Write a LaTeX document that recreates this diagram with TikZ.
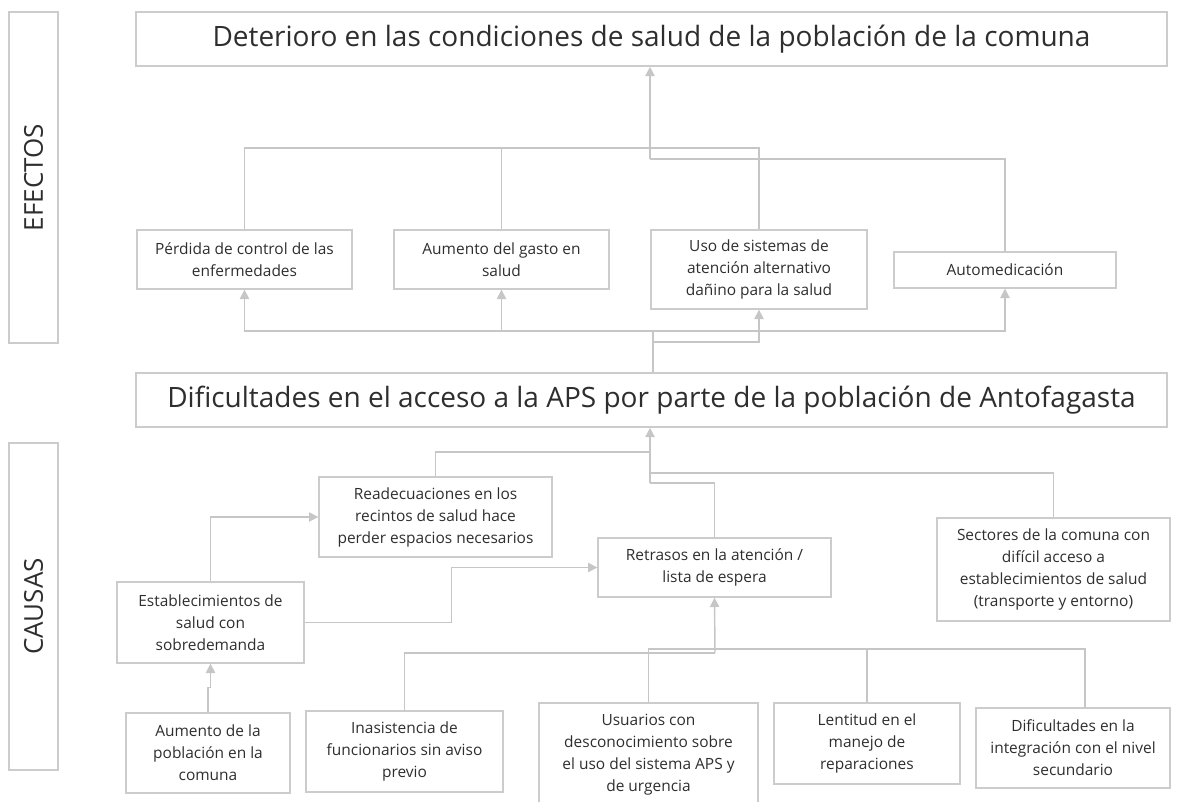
\documentclass[tikz,border=0pt]{standalone}
\usepackage{fontspec}
\setmainfont{Open Sans}
\usetikzlibrary{arrows.meta}
\definecolor{linegray}{HTML}{C6C6C6}
\definecolor{boxgray}{HTML}{CCCCCC}
\definecolor{textgray}{HTML}{2E2E2E}
\tikzset{
  conn/.style={draw=linegray, line width=1.1pt},
  connarrow/.style={conn, -{Triangle[length=7pt, width=7pt]}},
  causebox/.style={draw=boxgray, line width=1pt, align=center, text=textgray, font=\fontsize{11.6}{16.5}\selectfont, inner sep=1pt},
  bigbox/.style={draw=boxgray, line width=1.2pt, minimum width=773.25pt, minimum height=40.5pt, text=textgray, font=\fontsize{21}{24}\selectfont},
  sidebox/.style={draw=boxgray, line width=1pt, minimum height=36.75pt, rotate=90, text=textgray, font=\fontsize{19.5}{22}\selectfont}
}

\begin{document}
\begin{tikzpicture}[x=0.75pt, y=-0.75pt]
  \useasboundingbox (0,0) rectangle (1183,801);
  % side labels
  \node[sidebox, minimum width=248.25pt] (efectos) at (33.5,177.5) {EFECTOS};
  \node[sidebox, minimum width=245.25pt] (causas) at (33.5,606.5) {CAUSAS};
  % main boxes
  \node[bigbox] (top) at (651.5,39) {Deterioro en las condiciones de salud de la población de la comuna};
  \node[bigbox] (mid) at (651.5,400) {Dificultades en el acceso a la APS por parte de la población de Antofagasta};
  % effects
  \node[causebox, minimum width=161.25pt, minimum height=44.25pt] (perdida) at (244.5,259.5) {Pérdida de control de las\\ enfermedades};
  \node[causebox, minimum width=161.25pt, minimum height=44.25pt] (gasto) at (501.5,259.5) {Aumento del gasto en\\ salud};
  \node[causebox, minimum width=162pt, minimum height=59.25pt] (sistemas) at (759,269.5) {Uso de sistemas de\\ atención alternativo\\ dañino para la salud};
  \node[causebox, minimum width=166.5pt, minimum height=27pt] (automed) at (1005,270) {Automedicación};
  % causes
  \node[causebox, minimum width=174.75pt, minimum height=60pt] (readec) at (435.5,517) {Readecuaciones en los\\ recintos de salud hace\\ perder espacios necesarios};
  \node[causebox, minimum width=174.75pt, minimum height=44.25pt] (retrasos) at (714.5,567.5) {Retrasos en la atención /\\ lista de espera};
  \node[causebox, minimum width=174.75pt, minimum height=77.25pt] (sectores) at (1053.5,569.5) {Sectores de la comuna con\\ difícil acceso a\\ establecimientos de salud\\ (transporte y entorno)};
  \node[causebox, minimum width=140.25pt, minimum height=60.75pt] (sobredem) at (210.5,622.5) {Establecimientos de\\ salud con\\ sobredemanda};
  \node[causebox, minimum width=123pt, minimum height=60pt] (poblacion) at (208,753) {Aumento de la\\ población en la\\ comuna};
  \node[causebox, minimum width=147.75pt, minimum height=60.75pt] (inasist) at (404.5,751.5) {Inasistencia de\\ funcionarios sin aviso\\ previo};
  \node[causebox, minimum width=164.25pt, minimum height=78pt] (usuarios) at (648.5,755) {Usuarios con\\ desconocimiento sobre\\ el uso del sistema APS y\\ de urgencia};
  \node[causebox, minimum width=139.5pt, minimum height=60.75pt] (lentitud) at (867,743.5) {Lentitud en el\\ manejo de\\ reparaciones};
  \node[causebox, minimum width=145.5pt, minimum height=60pt] (integra) at (1073,748) {Dificultades en la\\ integración con el nivel\\ secundario};

  % effects to top
  \coordinate (jtop) at (650,159);
  \coordinate (btop) at (0,148);
  \draw[conn] (perdida.north) -- (perdida.north |- btop) -| (sistemas.north);
  \draw[conn] (gasto.north) -- (gasto.north |- btop);
  \draw[conn] (automed.north) |- (jtop);
  \draw[connarrow] (jtop) -- (jtop |- top.south);
  % mid to effects
  \coordinate (jmid) at (653,331);
  \coordinate (jmid3) at (653,342);
  \draw[conn] (jmid |- mid.north) -- (jmid);
  \draw[connarrow] (jmid) -| (perdida.south);
  \draw[connarrow] (jmid) -| (gasto.south);
  \draw[connarrow] (jmid) -| (automed.south);
  \draw[connarrow] (jmid3) -| (sistemas.south);
  % causes to mid
  \coordinate (jre) at (650,452);
  \coordinate (jse) at (650,473);
  \coordinate (jrt) at (650,483);
  \draw[conn] (readec.north) |- (jre);
  \draw[conn] (sectores.north) |- (jse);
  \draw[conn] (retrasos.north) |- (jrt);
  \draw[connarrow] (jrt) -- (jrt |- mid.south);
  % left branch
  \draw[connarrow] (sobredem.north) |- (readec.west);
  \draw[connarrow] (sobredem.east) -- ++(147,0) |- (retrasos.west);
  \draw[connarrow] (poblacion.north) -- ++(0,-25) -| (sobredem.south);
  % bottom row
  \coordinate (jbot) at (715,653);
  \coordinate (jusr) at (1085,649);
  \draw[conn] (inasist.north) |- (jbot);
  \draw[connarrow] (jbot) -- (retrasos.south);
  \draw[conn] (usuarios.north) |- (jusr) -- (jusr |- integra.north);
  \draw[conn] (lentitud.north) -- (lentitud.north |- jusr);
\end{tikzpicture}
\end{document}
